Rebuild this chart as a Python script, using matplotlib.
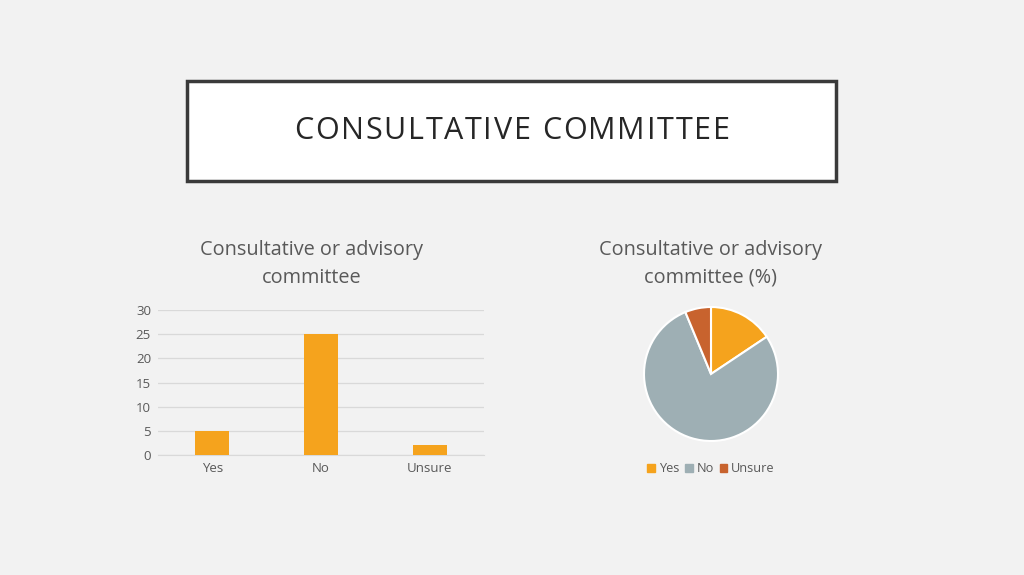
import matplotlib.pyplot as plt
from matplotlib.patches import Rectangle, Patch

# datos del grafico
categorias = ["Yes", "No", "Unsure"]
respuestas = [5, 25, 2]
ticks_y = [0, 5, 10, 15, 20, 25, 30]
colores_pie = ["#F5A31D", "#9EAFB4", "#C8632E"]
color_barra = "#F5A31D"

titulo = "CONSULTATIVE COMMITTEE"
titulo_barras = "Consultative or advisory\ncommittee"
titulo_pie = "Consultative or advisory\ncommittee (%)"

plt.rcParams['font.family'] = ['Open Sans', 'DejaVu Sans']
gris_texto = "#595959"

fig = plt.figure(figsize=(10.24, 5.75), dpi=100)
fig.patch.set_facecolor("#F2F2F2")

W, H = 1024, 575

# caja del titulo
caja = Rectangle((187 / W, 1 - 181 / H), (836 - 187) / W, (181 - 81) / H,
                 transform=fig.transFigure, facecolor="white",
                 edgecolor="#3A3A3A", linewidth=2.5)
fig.patches.append(caja)

# titulo con espaciado entre letras
renderer = fig.canvas.get_renderer()
espacio = 1.7  # px extra por letra
letras = []
ancho_total = 0
for ch in titulo:
    t = fig.text(0, 0, ch if ch != " " else "\u00a0", fontsize=22, color="#262626",
                 va="center", ha="left")
    w = t.get_window_extent(renderer).width
    if ch == " ":
        w = 22 * 100 / 72 * 0.26
    letras.append((t, w))
    ancho_total += w + espacio
ancho_total -= espacio
x = 512 - ancho_total / 2
for t, w in letras:
    t.set_position((x / W, 1 - 131 / H))
    x += w + espacio

# grafico de barras
ax = fig.add_axes([158 / W, 1 - 455 / H, (484 - 158) / W, (455 - 310) / H])
ax.set_facecolor("none")
ax.bar(range(len(categorias)), respuestas, width=0.31, color=color_barra, zorder=3)
ax.set_xlim(-0.5, len(categorias) - 0.5)
ax.set_ylim(0, 30)
ax.set_yticks(ticks_y)
ax.set_xticks(range(len(categorias)))
ax.set_xticklabels(categorias)
ax.grid(axis="y", color="#D9D9D9", linewidth=0.9, zorder=0)
for s in ["top", "right", "left"]:
    ax.spines[s].set_visible(False)
ax.spines["bottom"].set_color("#D9D9D9")
ax.tick_params(length=0, labelsize=9.5, labelcolor=gris_texto, pad=5)
fig.text(312 / W, 1 - 264 / H, titulo_barras, ha="center", va="center",
         fontsize=14.3, color=gris_texto, linespacing=1.48)

# grafico de pie
axp = fig.add_axes([644 / W, 1 - 441 / H, 134 / W, 134 / H])
axp.pie(respuestas, colors=colores_pie, startangle=90, counterclock=False,
        wedgeprops=dict(edgecolor="white", linewidth=1.5))
axp.set_xlim(-1, 1)
axp.set_ylim(-1, 1)
fig.text(711 / W, 1 - 264 / H, titulo_pie, ha="center", va="center",
         fontsize=14.3, color=gris_texto, linespacing=1.48)

handles = [Patch(color=c, label=l) for c, l in zip(colores_pie, categorias)]
fig.legend(handles=handles, loc="center", bbox_to_anchor=(711 / W, 1 - 469 / H),
           ncol=3, frameon=False, fontsize=9.2, labelcolor=gris_texto,
           handlelength=0.6, handleheight=0.6, handletextpad=0.3, columnspacing=0.45)

fig.savefig("out.png", dpi=100, facecolor=fig.get_facecolor())
